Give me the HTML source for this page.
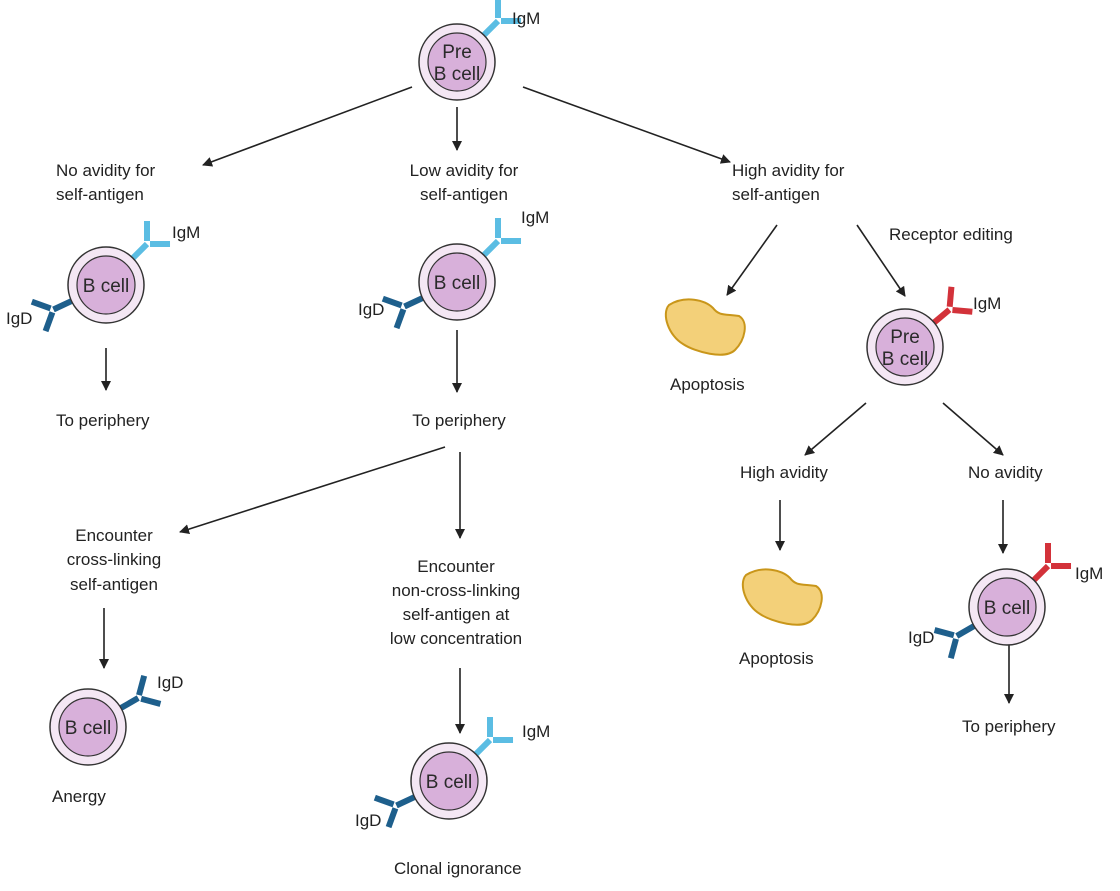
<!DOCTYPE html>
<html><head><meta charset="utf-8"><style>
html,body{margin:0;padding:0;background:#fff;}
svg text{font-family:"Liberation Sans",Arial,sans-serif;font-size:17px;fill:#222;}
svg text.cl{font-size:19px;fill:#2a2a2a;}
</style></head><body>
<svg id="s" width="1120" height="886" viewBox="0 0 1120 886" xmlns="http://www.w3.org/2000/svg">
<defs><marker id="ah" markerWidth="10" markerHeight="10" refX="9" refY="5" orient="auto" markerUnits="userSpaceOnUse"><path d="M0,0 L10,5 L0,10 Z" fill="#222"/></marker></defs>
<g id="arrows"></g><g id="shapes"></g><g id="labels"></g>
</svg>
<script>
const NS='http://www.w3.org/2000/svg';
const svg=document.getElementById('s');
function mk(tag,attrs,parent){const e=document.createElementNS(NS,tag);for(const k in attrs)e.setAttribute(k,attrs[k]);(parent||svg).appendChild(e);return e;}
const arrowsG=document.getElementById('arrows'),shapesG=document.getElementById('shapes'),labelsG=document.getElementById('labels');
const arrows=[[412,87,203,165],[457,107,457,150],[523,87,730,162],[106,348,106,390],[457,330,457,392],[777,225,727,295],[857,225,905,296],[866,403,805,455],[943,403,1003,455],[780,500,780,550],[1003,500,1003,553],[445,447,180,532],[460,452,460,538],[104,608,104,668],[460,668,460,733],[1009,645,1009,703]];
arrows.forEach(a=>{const l=mk('line',{x1:a[0],y1:a[1],x2:a[2],y2:a[3],stroke:'#222','stroke-width':1.6,'marker-end':'url(#ah)'},arrowsG);

});
function antibody(cx,cy,ang,col){const r=ang*Math.PI/180;const g=mk('g',{},shapesG);


const x1=cx+36*Math.cos(r),y1=cy+36*Math.sin(r),x2=cx+58*Math.cos(r),y2=cy+58*Math.sin(r);
mk('line',{x1:x1,y1:y1,x2:x2,y2:y2,stroke:col,'stroke-width':6},g);
[-1,1].forEach(s=>{const a=r+s*Math.PI/4;
const bx=x2+Math.cos(a)*3,by=y2+Math.sin(a)*3;const ex=x2+Math.cos(a)*23,ey=y2+Math.sin(a)*23;
mk('line',{x1:bx,y1:by,x2:ex,y2:ey,stroke:col,'stroke-width':6},g);});}
function cell(cx,cy,lines){const g=mk('g',{},shapesG);


mk('circle',{cx:cx,cy:cy,r:38,fill:'#f4e7f4',stroke:'#333','stroke-width':1.5},g);
mk('circle',{cx:cx,cy:cy,r:29,fill:'#d8b0da',stroke:'#333','stroke-width':1.2},g);
lines.forEach((t,i)=>{const tx=mk('text',{x:cx,y:cy+7+(i-(lines.length-1)/2)*22,'text-anchor':'middle','class':'cl'},g);tx.textContent=t;});}
const LB='#5bbde3',DB='#1e5f8c',RD='#d3323a';
const cells=[[457,62,['Pre','B cell'],[[-45,LB]]],[106,285,['B cell'],[[-45,LB],[155,DB]]],[457,282,['B cell'],[[-45,LB],[155,DB]]],[905,347,['Pre','B cell'],[[-40,RD]]],[1007,607,['B cell'],[[-45,RD],[150,DB]]],[88,727,['B cell'],[[-30,DB]]],[449,781,['B cell'],[[-45,LB],[155,DB]]]];
cells.forEach(c=>{c[3].forEach(a=>antibody(c[0],c[1],a[0],a[1]));cell(c[0],c[1],c[2]);});
function blob(x,y){const p=mk('path',{d:`M${x-36},${y-25} C${x-20},${y-35} ${x},${y-30} ${x+8},${y-22} C${x+14},${y-14} ${x+20},${y-16} ${x+34},${y-14} C${x+44},${y-8} ${x+40},${y+10} ${x+30},${y+20} C${x+20},${y+30} ${x-10},${y+22} ${x-22},${y+14} C${x-36},${y+6} ${x-44},${y-16} ${x-36},${y-25} Z`,fill:'#f3d079',stroke:'#c9961a','stroke-width':2},shapesG);

}
blob(705,330);blob(782,600);
const texts=[['IgM',512,24,'start'],['No avidity for',56,176,'start'],['self-antigen',56,200,'start'],['Low avidity for',464,176,'middle'],['self-antigen',464,200,'middle'],['High avidity for',732,176,'start'],['self-antigen',732,200,'start'],['Receptor editing',889,240,'start'],['IgM',172,238,'start'],['IgD',6,324,'start'],['IgM',521,223,'start'],['IgD',358,315,'start'],['IgM',973,309,'start'],['To periphery',56,426,'start'],['To periphery',459,426,'middle'],['Apoptosis',670,390,'start'],['High avidity',740,478,'start'],['No avidity',968,478,'start'],['Encounter',114,541,'middle'],['cross-linking',114,565,'middle'],['self-antigen',114,590,'middle'],['Encounter',456,572,'middle'],['non-cross-linking',456,596,'middle'],['self-antigen at',456,620,'middle'],['low concentration',456,644,'middle'],['IgM',1075,579,'start'],['IgD',908,643,'start'],['Apoptosis',739,664,'start'],['IgD',157,688,'start'],['To periphery',962,732,'start'],['IgM',522,737,'start'],['Anergy',52,802,'start'],['IgD',355,826,'start'],['Clonal ignorance',394,874,'start']];
texts.forEach(t=>{const e=mk('text',{x:t[1],y:t[2],'text-anchor':t[3]},labelsG);e.textContent=t[0];

});
</script>
</body></html>
